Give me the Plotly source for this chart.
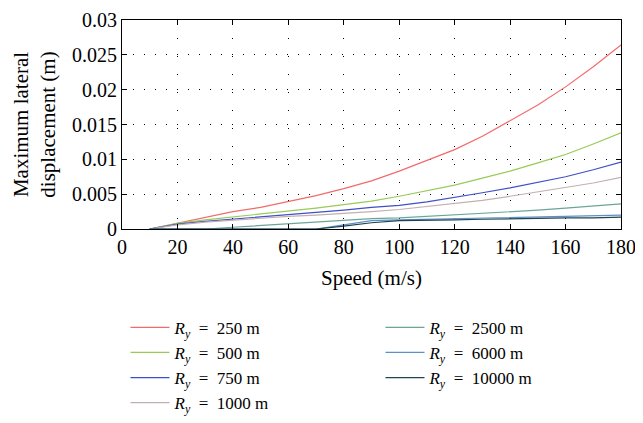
import plotly.graph_objects as go

speed = [10, 20, 30, 40, 50, 60, 70, 80, 90, 100, 110, 120, 130, 140, 150, 160, 170, 180]

ry_250 = [0, 0.00084, 0.0017, 0.0025, 0.0031, 0.0039, 0.0048, 0.0058, 0.0069, 0.0083, 0.0098, 0.0114, 0.0133, 0.0155, 0.0178, 0.0204, 0.0233, 0.0264]
ry_500 = [0, 0.0008, 0.0013, 0.0017, 0.0021, 0.0025, 0.0030, 0.0035, 0.0040, 0.0047, 0.0055, 0.0063, 0.0073, 0.0083, 0.0095, 0.0107, 0.0122, 0.0138]
ry_750 = [0, 0.0007, 0.0011, 0.0014, 0.0017, 0.0020, 0.0024, 0.0027, 0.0031, 0.0034, 0.0039, 0.0045, 0.0052, 0.0059, 0.0067, 0.0075, 0.0085, 0.0096]
ry_1000 = [0, 0.0006, 0.0010, 0.0013, 0.0016, 0.0018, 0.0020, 0.0022, 0.0025, 0.0028, 0.0032, 0.0036, 0.0041, 0.0047, 0.0053, 0.0059, 0.0066, 0.0074]
ry_2500 = [0, 0, 0, 0.00025, 0.0005, 0.0008, 0.0010, 0.0013, 0.0015, 0.0016, 0.0018, 0.0020, 0.0022, 0.0025, 0.0027, 0.0030, 0.0033, 0.0036]
ry_6000 = [0, 0, 0, 0, 0, 0, 0, 0.0006, 0.0012, 0.0013, 0.0014, 0.0014, 0.0015, 0.0016, 0.0017, 0.0018, 0.0019, 0.0020]
ry_10000 = [0, 0, 0, 0, 0, 0, 0, 0.0004, 0.0009, 0.0012, 0.0012, 0.0013, 0.0014, 0.0015, 0.0015, 0.0016, 0.0016, 0.0017]

series_names = ["250", "500", "750", "1000", "2500", "6000", "10000"]
series_values = [ry_250, ry_500, ry_750, ry_1000, ry_2500, ry_6000, ry_10000]
colors = ["#F26B6B", "#98CB58", "#3F4FC8", "#C2B0B0", "#6BA597", "#5E8FC6", "#1E4650"]
legends = ["legend", "legend", "legend", "legend", "legend2", "legend2", "legend2"]

x_ticks = [0, 20, 40, 60, 80, 100, 120, 140, 160, 180]
y_ticks = [0, 0.005, 0.01, 0.015, 0.02, 0.025, 0.03]
y_tick_labels = ["0", "0.005", "0.01", "0.015", "0.02", "0.025", "0.03"]

FONT = "Liberation Serif"
FS = 20

fig = go.Figure()
for name, vals, col, lg in zip(series_names, series_values, colors, legends):
    fig.add_trace(go.Scatter(
        x=speed, y=vals, mode="lines",
        line=dict(color=col, width=1.2),
        name="<i>R</i><sub><i>y</i></sub>\u2002=\u2002" + name + " m",
        legend=lg,
    ))

axis_common = dict(
    showline=True, linecolor="black", linewidth=1, mirror="ticks",
    ticks="inside", ticklen=5, tickcolor="black", tickwidth=1,
    showgrid=True, gridcolor="black", gridwidth=1, zeroline=False,
    tickfont=dict(family=FONT, size=FS, color="black"),
    automargin=False,
)

fig.update_xaxes(
    range=[0, 180], tickvals=x_ticks, griddash="1px,17px",
    title=dict(text="Speed (m/s)", font=dict(family=FONT, size=21, color="black"), standoff=13),
    **axis_common,
)
fig.update_yaxes(
    range=[0, 0.03], tickvals=y_ticks, ticktext=y_tick_labels, griddash="1px,10px",
    title=dict(text="Maximum lateral<br>displacement (m)", font=dict(family=FONT, size=21, color="black"), standoff=10),
    **axis_common,
)

leg_common = dict(
    font=dict(family=FONT, size=17, color="black"),
    bgcolor="rgba(0,0,0,0)", yanchor="top", xanchor="left",
    tracegroupgap=0, itemwidth=39,
)

fig.update_layout(
    width=643, height=423,
    margin=dict(l=114, r=30, t=12, b=201),
    plot_bgcolor="white", paper_bgcolor="white",
    font=dict(family=FONT, size=FS, color="black"),
    legend=dict(x=0.007, y=-0.38, **leg_common),
    legend2=dict(x=0.518, y=-0.38, **leg_common),
)

fig.write_html("out.html")
